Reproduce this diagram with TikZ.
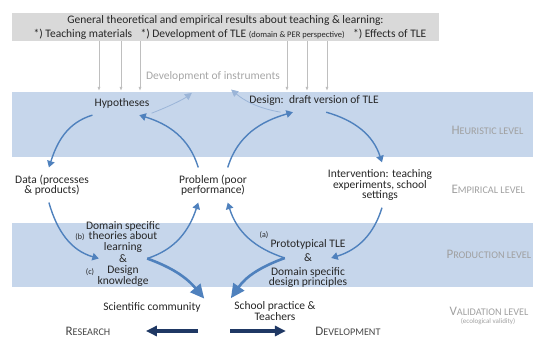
\documentclass[tikz,border=0pt]{standalone}
\usepackage{fontspec}
\setmainfont{Carlito}
\usepackage{tikz}
\usetikzlibrary{positioning,arrows.meta}
\definecolor{BandColor}{HTML}{C6D6EB}
\definecolor{CycleColor}{HTML}{4F81BD}
\definecolor{PushColor}{HTML}{1F3864}
\definecolor{BoxColor}{HTML}{D9D9D9}
\definecolor{FeedColor}{HTML}{BFBFBF}
\definecolor{LevelColor}{HTML}{A0A0A0}
\definecolor{InstrColor}{HTML}{9BB5D8}
\definecolor{InstrText}{HTML}{A6A6A6}
\definecolor{TextColor}{HTML}{262626}
\newcommand{\levelname}[2]{{\fontsize{13}{13}\selectfont #1}{\fontsize{10.2}{11}\selectfont #2}}

\begin{document}
\begin{tikzpicture}[x=1pt,y=1pt,
      font=\fontsize{11.5}{10.5}\selectfont, text=TextColor,
      stage/.style={align=center,inner xsep=2pt,inner ysep=7pt},
      band/.style={fill=BandColor,draw=none},
      cycle/.style={-{Triangle[width=7.5pt,length=6.5pt]},line width=1.4pt,draw=CycleColor},
      fat/.style={-{Triangle[width=13pt,length=14pt]},line width=2.6pt,draw=CycleColor},
      feed/.style={-{Latex[width=3pt,length=4pt]},line width=0.8pt,draw=FeedColor},
      instrarrow/.style={-{Triangle[width=7pt,length=7pt]},line width=0.8pt,draw=InstrColor},
      push/.style={-{Triangle[width=10pt,length=11pt]},line width=3.2pt,draw=PushColor},
      level/.style={anchor=west,text=LevelColor},
      tag/.style={font=\fontsize{8}{8}\selectfont,inner sep=0pt}
    ]
    \useasboundingbox (0,0) rectangle (533,338);
    \fill[band] (12,181) rectangle (533,246);
    \fill[band] (12,51) rectangle (533,115);

    \node[fill=BoxColor,minimum width=427pt,minimum height=28pt,inner sep=0pt,align=center] (general) at (225.5,311)
      {General theoretical and empirical results about teaching \& learning:\\[3.5pt]
       \hspace*{9pt}*) Teaching materials\enspace\ *) Development of TLE {\fontsize{8.5}{9}\selectfont (domain \& PER perspective)}\enspace\ *) Effects of TLE};
    \foreach \x [count=\i] in {99,121,140,287,307,327} {
      \coordinate (feed\i) at (\x,247);
      \draw[feed] (general.south -| feed\i) -- (feed\i);
    }

    \node[text=InstrText] (instr) at (213,262) {Development of instruments};
    \node[stage] (hyp) at (122,235) {Hypotheses};
    \node[stage] (design) at (314,238) {Design:\ \ draft version of TLE};
    \node[stage] (data) at (52,153) {Data (processes\\ \& products)};
    \node[stage] (problem) at (213,153) {Problem (poor\\performance)};
    \node[stage] (interv) at (380,153) {Intervention: teaching\\experiments, school\\settings};

    \node[minimum width=48pt,inner sep=1pt] (amp) at (123,79.5) {\&};
    \node[above=0pt of amp,align=center,inner sep=1pt] (theory) {Domain specific\\theories about\\learning};
    \node[below=1pt of amp,align=center,inner sep=1pt] (knowhow) {Design\\knowledge};
    \node[tag] (tagb) at (80,101) {(b)};
    \node[tag] (tagc) at (90,66) {(c)};

    \node[minimum width=46pt,inner sep=1pt] (ampb) at (308,80) {\&};
    \node[above=2pt of ampb,inner sep=1pt] (proto) {Prototypical TLE};
    \node[below=3pt of ampb,align=center,inner sep=1pt] (principles) {Domain specific\\design principles};
    \node[tag] (taga) at (264,103) {(a)};

    \node (sci) at (152,31) {Scientific community};
    \node[align=center] (school) at (275,27) {School practice \&\\Teachers};

    \node[level] (heur) at (448,208) {\levelname{H}{EURISTIC LEVEL}};
    \node[level] (emp) at (448,149) {\levelname{E}{MPIRICAL LEVEL}};
    \node[level] (prod) at (443,84) {\levelname{P}{RODUCTION LEVEL}};
    \node[level] (valid) at (446,27) {\levelname{V}{ALIDATION LEVEL}};
    \node[text=LevelColor,font=\fontsize{7}{7}\selectfont] (eco) at (488,16) {(ecological validity)};

    \node[text=TextColor!85] (research) at (88,7) {\levelname{R}{ESEARCH}};
    \node[text=TextColor!85] (development) at (348,7) {\levelname{D}{EVELOPMENT}};

    \draw[cycle] (hyp.south west) to[out=197,in=72] (data.100);
    \draw[cycle] (data.-100) to[out=286,in=164] (amp.west);
    \draw[cycle] (amp.east) to[out=18,in=252] (problem.-130);
    \draw[cycle] (problem.130) to[out=107,in=-17] (hyp.-35);
    \draw[cycle] (problem.50) to[out=73,in=196] (design.210);
    \draw[cycle] (design.-45) to[out=-16,in=108] (interv.85);
    \draw[cycle] (interv.-85) to[out=253,in=17] (ampb.east);
    \draw[cycle] (ampb.west) to[out=162,in=287] (problem.-50);

    \draw[fat] (amp.east) to[out=-20,in=130] (sci.north east);
    \draw[fat] (ampb.west) to[out=200,in=55] (school.north west);

    \draw[instrarrow,shorten >=14pt] (hyp.-19) to[bend right=8] ([xshift=-10pt]instr.south);
    \draw[instrarrow,shorten >=8pt] (design.200) to[out=170,in=-40] ([xshift=12pt]instr.south);

    \coordinate (rs) at (198,7);
    \coordinate (ds) at (230,7);
    \draw[push,shorten >=32pt] (rs) -- (research);
    \draw[push,shorten >=26pt] (ds) -- (development);
  \end{tikzpicture}
\end{document}
